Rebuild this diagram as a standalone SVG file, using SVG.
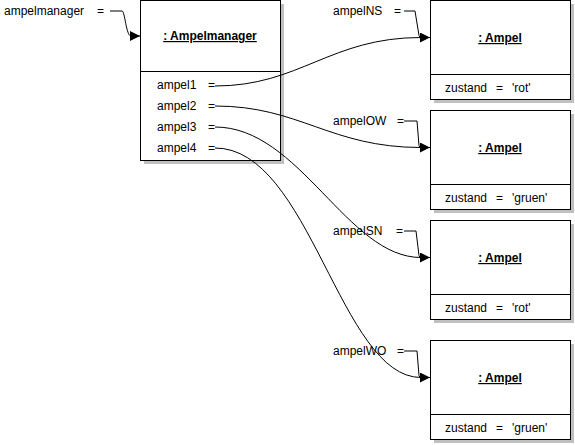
<svg xmlns="http://www.w3.org/2000/svg" width="575" height="445" viewBox="0 0 575 445">
<defs>
<style>
.box{fill:#fff;stroke:#000;stroke-width:1}
.shadow{fill:#c0c0c0;stroke:none}
.div{stroke:#000;stroke-width:1}
text{font-family:"Liberation Sans",Arial,sans-serif;font-size:12px;fill:#000}
.title{font-weight:bold;text-decoration:underline;text-anchor:middle}
.conn{fill:none;stroke:#000;stroke-width:1}
.ref{fill:none;stroke:#000;stroke-width:1;marker-end:url(#arrow)}
</style>
<marker id="arrow" markerUnits="userSpaceOnUse" markerWidth="10" markerHeight="10" refX="10" refY="5" orient="auto">
<path d="M0,0 L10,5 L0,10 z" fill="#000"/>
</marker>
</defs>
<rect width="575" height="445" fill="#fff"/>

<g id="ampelmanager">
<rect class="shadow" x="144" y="4" width="140" height="160"/>
<rect class="box" x="140.5" y="0.5" width="140" height="160"/>
<line class="div" x1="140.5" y1="71.5" x2="280.5" y2="71.5"/>
<text class="title" x="210" y="40">: Ampelmanager</text>
<text x="157" y="89">ampel1<tspan x="208">=</tspan></text>
<text x="157" y="110">ampel2<tspan x="208">=</tspan></text>
<text x="157" y="131">ampel3<tspan x="208">=</tspan></text>
<text x="157" y="152">ampel4<tspan x="208">=</tspan></text>
</g>

<g id="ampelNS">
<rect class="shadow" x="434" y="4" width="140" height="99"/>
<rect class="box" x="430.5" y="0.5" width="140" height="99"/>
<line class="div" x1="430.5" y1="74.5" x2="570.5" y2="74.5"/>
<text class="title" x="500" y="42">: Ampel</text>
<text x="445" y="91.5">zustand<tspan x="496">=</tspan><tspan x="512">'rot'</tspan></text>
</g>

<g id="ampelOW">
<rect class="shadow" x="434" y="114" width="140" height="99"/>
<rect class="box" x="430.5" y="110.5" width="140" height="99"/>
<line class="div" x1="430.5" y1="184.5" x2="570.5" y2="184.5"/>
<text class="title" x="500" y="152">: Ampel</text>
<text x="445" y="201.5">zustand<tspan x="496">=</tspan><tspan x="512">'gruen'</tspan></text>
</g>

<g id="ampelSN">
<rect class="shadow" x="434" y="224" width="140" height="99"/>
<rect class="box" x="430.5" y="220.5" width="140" height="99"/>
<line class="div" x1="430.5" y1="294.5" x2="570.5" y2="294.5"/>
<text class="title" x="500" y="262">: Ampel</text>
<text x="445" y="311.5">zustand<tspan x="496">=</tspan><tspan x="512">'rot'</tspan></text>
</g>

<g id="ampelWO">
<rect class="shadow" x="434" y="344" width="140" height="99"/>
<rect class="box" x="430.5" y="340.5" width="140" height="99"/>
<line class="div" x1="430.5" y1="414.5" x2="570.5" y2="414.5"/>
<text class="title" x="500" y="382">: Ampel</text>
<text x="445" y="431.5">zustand<tspan x="496">=</tspan><tspan x="512">'gruen'</tspan></text>
</g>

<g id="labels">
<text x="4" y="15">ampelmanager<tspan x="97">=</tspan></text>
<text x="333" y="15">ampelNS<tspan x="394">=</tspan></text>
<text x="333" y="125">ampelOW<tspan x="397">=</tspan></text>
<text x="333" y="235">ampelSN<tspan x="396">=</tspan></text>
<text x="333" y="355">ampelWO<tspan x="397">=</tspan></text>
</g>

<g id="connectors">
<path class="ref" d="M110,11 L122,11 C125,11 126,36 131,36 L140,36"/>
<path class="ref" d="M404,11 L415,11 L419,35.5 Q419.5,37.5 421,37.5 L430,37.5"/>
<path class="ref" d="M404,121 L417,121 L419,145.5 Q419.5,147.5 421,147.5 L430,147.5"/>
<path class="ref" d="M404,231 L416,231 L419,255.5 Q419.5,257.5 421,257.5 L430,257.5"/>
<path class="ref" d="M404,351 L417,351 L419,375.5 Q419.5,377.5 421,377.5 L430,377.5"/>
<path class="conn" d="M215,86 C300,86 330,37.5 421,37.5"/>
<path class="conn" d="M215,106 C300,106 330,147.5 421,147.5"/>
<path class="conn" d="M215,127 C300,127 347,257.5 421,257.5"/>
<path class="conn" d="M215,148 C310,148 340,377.5 421,377.5"/>
</g>
</svg>
